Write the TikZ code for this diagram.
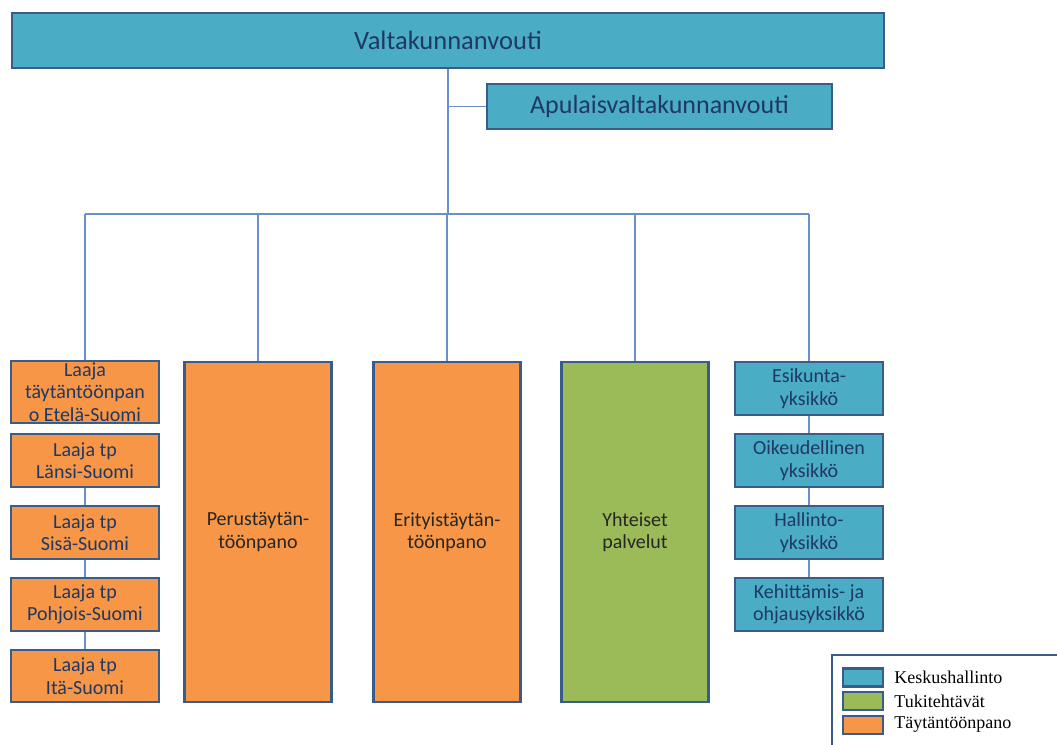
\documentclass[tikz,border=0pt]{standalone}
\usepackage{fontspec}
\setmainfont{Carlito}
\newfontfamily\legendfont{Liberation Serif}
\usetikzlibrary{positioning}

\definecolor{kesk}{HTML}{4BACC6}
\definecolor{tayt}{HTML}{F79646}
\definecolor{tuki}{HTML}{9BBB59}
\definecolor{boxline}{HTML}{385D8A}
\definecolor{linkblue}{HTML}{6990CC}
\definecolor{navy}{HTML}{1F3864}

\tikzset{
	unit/.style={draw=boxline, line width=2.7pt, text=navy, align=center, inner sep=0pt,
		font=\fontsize{20}{22.5}\selectfont},
	central/.style={unit, fill=kesk},
	exec/.style={unit, fill=tayt},
	support/.style={unit, fill=tuki},
	region/.style={exec, minimum width=148pt},
	office/.style={central, minimum width=148pt, minimum height=53pt},
	big/.style={unit, minimum width=147pt, minimum height=340pt, text=black!85},
	link/.style={draw=linkblue, line width=1.4pt},
	swatch/.style={draw=boxline, line width=2.5pt, minimum width=40pt, minimum height=18pt, inner sep=0pt},
	legtext/.style={font=\legendfont\fontsize{18}{20}\selectfont, inner sep=0pt, anchor=west}
}

\begin{document}
\begin{tikzpicture}[x=1pt,y=-1pt]
\useasboundingbox (0,0) rectangle (1057,744);

% johto
\node[central, minimum width=872pt, minimum height=55pt, font=\fontsize{26.5}{30}\selectfont] (vk) at (448,40.5) {Valtakunnanvouti};
\node[central, minimum width=345pt, minimum height=45pt, font=\fontsize{26}{30}\selectfont] (apu) at (659.5,106.5) {Apulaisvaltakunnanvouti};

% laaja taytantoonpano
\node[region, minimum height=62pt] (lp1) at (85,392) {Laaja\\täytäntöönpan\\o Etelä-Suomi};
\node[region, minimum height=53pt] (lp2) at (85,460.5) {Laaja tp\\Länsi-Suomi};
\node[region, minimum height=53pt] (lp3) at (85,532.5) {Laaja tp\\Sisä-Suomi};
\node[region, minimum height=53pt] (lp4) at (85,604.5) {Laaja tp\\Pohjois-Suomi};
\node[region, minimum height=52pt] (lp5) at (85,676) {Laaja tp\\Itä-Suomi};

\node[big, fill=tayt] (perus) at (258,532) {Perustäytän-\\töönpano};
\node[big, fill=tayt] (erit) at (447,532) {Erityistäytän-\\töönpano};
\node[big, fill=tuki] (yht) at (635,532) {Yhteiset\\palvelut};

% yksikot
\node[office] (yk1) at (809,388.5) {Esikunta-\\yksikkö};
\node[office] (yk2) at (809,460.5) {Oikeudellinen\\yksikkö};
\node[office] (yk3) at (809,532.5) {Hallinto-\\yksikkö};
\node[office] (yk4) at (809,604.5) {Kehittämis- ja\\ohjausyksikkö};

\coordinate (bus) at (448,214);
\draw[link] (vk.south) -- (bus);
\draw[link] (vk.south |- apu.west) -- (apu.west);
\draw[link] (lp1.north |- bus) -- (yk1.north |- bus);
\foreach \n in {lp1,perus,erit,yht,yk1}
	\draw[link] (\n.north |- bus) -- (\n.north);
\foreach \a/\b in {lp2/lp3,lp3/lp4,lp4/lp5,yk1/yk2,yk2/yk3,yk3/yk4}
	\draw[link] (\a.south) -- (\b.north);

% selite
\draw[draw=boxline, line width=1.5pt] (1060,655) -- (832,655) -- (832,748);
\node[swatch, fill=kesk] (sw1) at (863,677.5) {};
\node[swatch, fill=tuki] (sw2) at (863,701) {};
\node[swatch, fill=tayt] (sw3) at (863,725) {};
\node[legtext, right=10pt of sw1] (lg1) {Keskushallinto};
\node[legtext, right=10pt of sw2] (lg2) {Tukitehtävät};
\node[legtext, right=10pt of sw3] (lg3) {Täytäntöönpano};

\end{tikzpicture}
\end{document}
